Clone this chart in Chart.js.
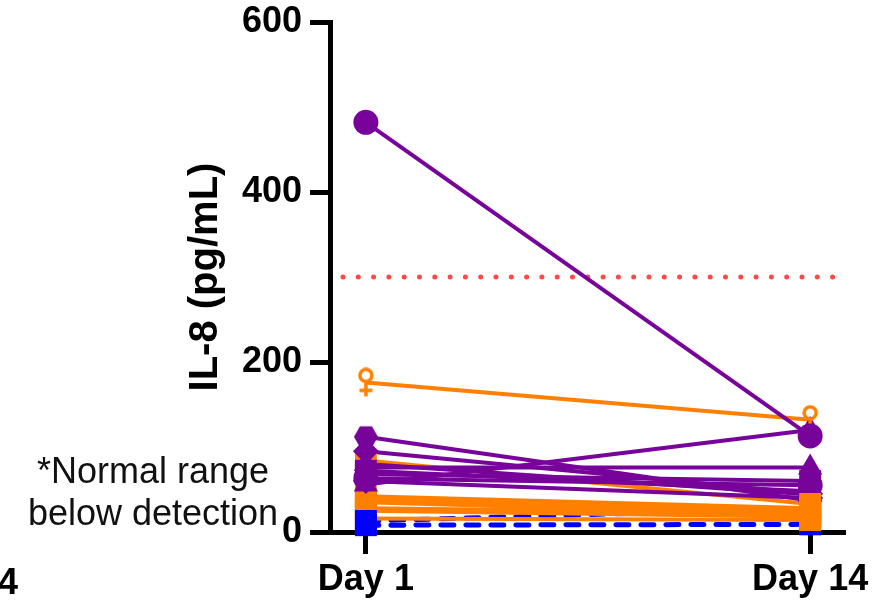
<!DOCTYPE html>
<html>
<head>
<meta charset="utf-8">
<script src="https://cdn.jsdelivr.net/npm/chart.js@4.4.0/dist/chart.umd.min.js"></script>
<style>
  html, body { margin: 0; padding: 0; background: #fff; }
  #wrap { position: relative; width: 889px; height: 600px; overflow: hidden; }
  #chart { position: absolute; left: 0; top: 0; }
  .note { position: absolute; left: 3px; top: 450px; width: 300px; text-align: center;
          font: 36px "Liberation Sans", Arial, sans-serif; line-height: 42px; color: #111; }
  .cut { position: absolute; left: -2px; top: 561px; font: bold 36px "Liberation Sans", Arial, sans-serif;
         line-height: 42px; color: #000; }
</style>
</head>
<body>
<div id="wrap">
  <canvas id="chart" width="889" height="600"></canvas>
  <div class="note">*Normal range<br>below detection</div>
  <div class="cut">4</div>
</div>
<script>
// ── Data ──────────────────────────────────────────────
const days = [1, 14];
const dayLabels = ['Day 1', 'Day 14'];
const yTickValues = [0, 200, 400, 600];
const normalCutoff = 300;

const purpleDay1  = [482, 112, 95, 56, 76, 68, 63, 60, 72, 80];
const purpleDay14 = [113, 37, 45, 120, 76, 60, 55, 40, 48, 44];

const orangeDay1  = [176, 84, 42, 38, 35, 28, 25, 16];
const orangeDay14 = [132, 33, 28, 24, 20, 22, 18, 14];

const blueDay1  = [13, 8];
const blueDay14 = [28, 9];

// ── Styles ────────────────────────────────────────────
const PURPLE = '#77039b';
const ORANGE = '#ff8000';
const BLUE = '#0000ff';
const RED = '#ff4848';
const FONT = '"Liberation Sans", Arial, sans-serif';

function makeHexagon(r, color) {
  const c = document.createElement('canvas');
  c.width = c.height = r * 2 + 2;
  const g = c.getContext('2d');
  g.fillStyle = color;
  g.beginPath();
  for (let i = 0; i < 6; i++) {
    const a = Math.PI / 3 * i;
    const px = r + 1 + r * Math.cos(a), py = r + 1 + r * Math.sin(a);
    i === 0 ? g.moveTo(px, py) : g.lineTo(px, py);
  }
  g.closePath();
  g.fill();
  return c;
}

function makeFemale(color) {
  const c = document.createElement('canvas');
  c.width = 18; c.height = 30;
  const g = c.getContext('2d');
  g.strokeStyle = color;
  g.lineWidth = 3.5;
  g.beginPath(); g.arc(9, 8, 6, 0, Math.PI * 2); g.stroke();
  g.beginPath(); g.moveTo(9, 14); g.lineTo(9, 29); g.stroke();
  g.beginPath(); g.moveTo(2.5, 23); g.lineTo(15.5, 23); g.stroke();
  return c;
}

const hexImg = makeHexagon(12, PURPLE);
const femaleImg = makeFemale(ORANGE);

const purpleStyles = ['circle', hexImg, 'rectRot', 'triangle', 'triangle', 'rect', 'circle', 'rectRot', 'rect', 'triangle'];
const radiusFor = s => s === 'rect' ? 15.5 : s === 'triangle' ? 14 : s === 'rectRot' ? 13 : 12.5;

// line only (no markers)
function lineSet(d1, d14, color, dashed) {
  return {
    data: [{ x: days[0], y: d1 }, { x: days[1], y: d14 }],
    borderColor: color,
    borderWidth: dashed ? 5 : 4,
    borderDash: dashed ? [13, 12] : [],
    borderCapStyle: dashed ? 'round' : 'butt',
    pointRadius: 0,
    clip: false
  };
}

// markers only, for one day, for a group of subjects
function markerSet(dayIdx, values, color, styles) {
  return {
    data: values.map(v => ({ x: days[dayIdx], y: v })),
    showLine: false,
    borderWidth: 0,
    pointStyle: styles,
    pointRadius: styles.map(s => typeof s === 'string' ? radiusFor(s) : 12),
    pointBorderWidth: 0,
    pointBackgroundColor: color,
    clip: false
  };
}

const pStylesRest = purpleStyles.slice(1);
const rects = n => Array(n).fill('rect');

// first dataset is drawn on top
const datasets = [
  markerSet(0, [purpleDay1[0]], PURPLE, ['circle']),
  markerSet(1, [purpleDay14[0]], PURPLE, ['circle']),
  markerSet(0, [orangeDay1[0]], ORANGE, [femaleImg]),
  markerSet(1, [orangeDay14[0]], ORANGE, [femaleImg]),
  // Day 1 stack: purple > blue > orange
  markerSet(0, purpleDay1.slice(1), PURPLE, pStylesRest),
  markerSet(0, blueDay1, BLUE, rects(blueDay1.length)),
  markerSet(0, orangeDay1.slice(1), ORANGE, rects(orangeDay1.length - 1)),
  // Day 14 stack: orange > blue > purple
  markerSet(1, orangeDay14.slice(1), ORANGE, rects(orangeDay14.length - 1)),
  markerSet(1, blueDay14, BLUE, rects(blueDay14.length)),
  markerSet(1, purpleDay14.slice(1), PURPLE, pStylesRest),
  lineSet(purpleDay1[0], purpleDay14[0], PURPLE),
  lineSet(orangeDay1[0], orangeDay14[0], ORANGE)
];
for (let i = 1; i < purpleDay1.length; i++) datasets.push(lineSet(purpleDay1[i], purpleDay14[i], PURPLE));
for (let i = 1; i < orangeDay1.length; i++) datasets.push(lineSet(orangeDay1[i], orangeDay14[i], ORANGE));
for (let i = 0; i < blueDay1.length; i++) datasets.push(lineSet(blueDay1[i], blueDay14[i], BLUE, true));

// normal-range cutoff, dotted
datasets.push({
  data: [{ x: 0.33, y: normalCutoff }, { x: 14.88, y: normalCutoff }],
  borderColor: RED,
  borderWidth: 5,
  borderDash: [0, 15.3],
  borderCapStyle: 'round',
  pointRadius: 0,
  clip: false
});

// ── Chart ─────────────────────────────────────────────
const axisGrid = (len) => ({
  drawOnChartArea: false,
  drawTicks: true,
  tickLength: len,
  tickWidth: 5,
  color: '#000'
});

new Chart(document.getElementById('chart').getContext('2d'), {
  type: 'line',
  data: { datasets },
  options: {
    responsive: false,
    animation: false,
    layout: { padding: { left: 170, top: 22, right: 44, bottom: 0 } },
    plugins: { legend: { display: false }, tooltip: { enabled: false } },
    scales: {
      x: {
        type: 'linear',
        min: -0.05,
        max: 15.02,
        afterBuildTicks: s => { s.ticks = days.map(v => ({ value: v })); },
        afterFit: s => { s.height = 68; s.paddingLeft = 0; s.paddingRight = 0; },
        ticks: {
          callback: v => dayLabels[days.indexOf(v)],
          font: { family: FONT, size: 36, weight: 'bold' },
          color: '#000',
          padding: 4,
          maxRotation: 0,
          autoSkip: false
        },
        grid: axisGrid(22),
        border: { display: true, width: 5, color: '#000' }
      },
      y: {
        min: 0,
        max: 600,
        afterBuildTicks: s => { s.ticks = yTickValues.map(v => ({ value: v })); },
        afterFit: s => { s.width = 160; s.paddingTop = 0; s.paddingBottom = 0; },
        title: {
          display: true,
          text: 'IL-8 (pg/mL)',
          font: { family: FONT, size: 40, weight: 'bold' },
          color: '#000',
          padding: { top: 12, bottom: 0 }
        },
        ticks: {
          font: { family: FONT, size: 36, weight: 'bold' },
          color: '#000',
          padding: 8
        },
        grid: axisGrid(20),
        border: { display: true, width: 5, color: '#000' }
      }
    }
  }
});
</script>
</body>
</html>
